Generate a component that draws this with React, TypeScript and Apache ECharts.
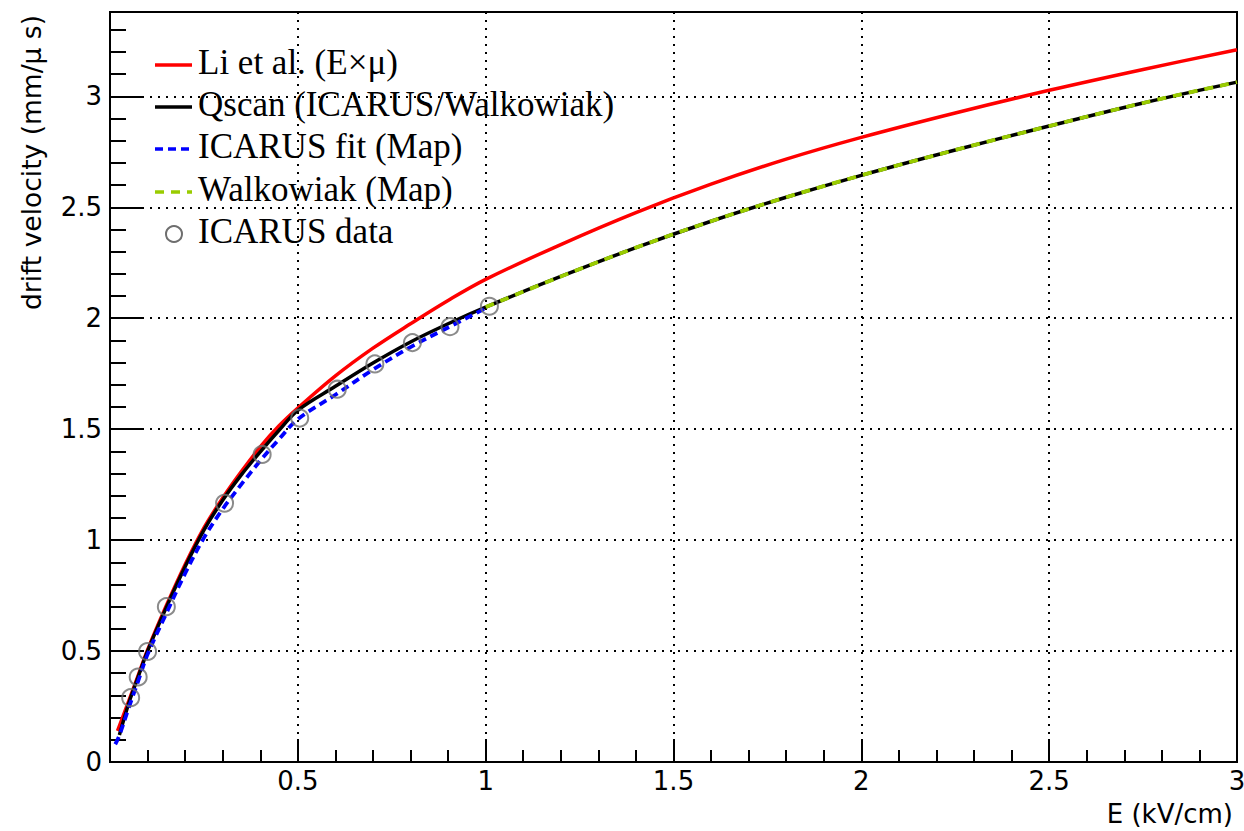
import React, { useEffect, useRef } from "react";
import * as echarts from "echarts";

// ---- data ----
const E_LI = [0.02, 0.05, 0.075, 0.1, 0.15, 0.2, 0.25, 0.3, 0.35, 0.4, 0.45, 0.5, 0.6, 0.7, 0.8, 0.9, 1.0, 1.2, 1.4, 1.6, 1.8, 2.0, 2.25, 2.5, 2.75, 3.0];
const V_LI = [0.14, 0.275, 0.39, 0.505, 0.705, 0.89, 1.055, 1.19, 1.31, 1.42, 1.515, 1.595, 1.74, 1.865, 1.975, 2.08, 2.175, 2.332, 2.476, 2.604, 2.717, 2.815, 2.925, 3.027, 3.121, 3.21];

const E_QSCAN = [0.025, 0.05, 0.075, 0.1, 0.15, 0.2, 0.25, 0.3, 0.35, 0.4, 0.45, 0.5, 0.6, 0.7, 0.8, 0.9, 1.0, 1.2, 1.4, 1.6, 1.8, 2.0, 2.25, 2.5, 2.75, 3.0];
const V_QSCAN = [0.122, 0.265, 0.384, 0.5, 0.697, 0.88, 1.045, 1.18, 1.295, 1.398, 1.495, 1.585, 1.693, 1.798, 1.893, 1.975, 2.05, 2.188, 2.318, 2.437, 2.545, 2.644, 2.758, 2.866, 2.97, 3.064];

const E_ICFIT = [0.014, 0.025, 0.05, 0.075, 0.1, 0.15, 0.2, 0.25, 0.3, 0.35, 0.4, 0.45, 0.5, 0.6, 0.7, 0.8, 0.9, 1.0];
const V_ICFIT = [0.08, 0.12, 0.245, 0.365, 0.485, 0.67, 0.85, 1.01, 1.14, 1.252, 1.358, 1.455, 1.545, 1.655, 1.768, 1.87, 1.958, 2.045];

const E_WALK = [1.0, 1.2, 1.4, 1.6, 1.8, 2.0, 2.25, 2.5, 2.75, 3.0];
const V_WALK = [2.05, 2.188, 2.318, 2.437, 2.545, 2.644, 2.758, 2.866, 2.97, 3.064];

const E_DATA = [0.055, 0.075, 0.1, 0.15, 0.305, 0.405, 0.505, 0.605, 0.705, 0.805, 0.905, 1.01];
const V_DATA = [0.29, 0.383, 0.498, 0.7, 1.166, 1.386, 1.55, 1.68, 1.794, 1.89, 1.962, 2.054];

const SERIES_NAMES = [
  "Li et al. (E×μ)",
  "Qscan (ICARUS/Walkowiak)",
  "ICARUS fit (Map)",
  "Walkowiak (Map)",
  "ICARUS data",
];

const X_TITLE = "E (kV/cm)";
const Y_TITLE = "drift velocity (mm/μ s)";

const zip = (xs: number[], ys: number[]) => xs.map((x, i) => [x, ys[i]]);

const SANS = "DejaVu Sans";
const SERIF = "Liberation Serif";

const RED = "#ff0000";
const BLACK = "#000000";
const BLUE = "#0000ff";
const GREEN = "#99cc00";
const GRAY = "#6e6e6e";
const BLUE_DASH = [8, 5];
const GREEN_DASH = [9, 7];

export default function App() {
  const ref = useRef<HTMLDivElement>(null);

  useEffect(() => {
    document.body.style.margin = "0";
    const chart = echarts.init(ref.current!, null, { renderer: "svg" });

    const isMajor = (v: number) => Math.abs(v * 2 - Math.round(v * 2)) < 1e-6;

    // legend drawn as graphic elements (ROOT TLegend style)
    const legRows = [65, 107, 149, 192, 234];
    const legStyles: any[] = [
      { stroke: RED, lineWidth: 3.5 },
      { stroke: BLACK, lineWidth: 3.5 },
      { stroke: BLUE, lineWidth: 3.5, lineDash: BLUE_DASH },
      { stroke: GREEN, lineWidth: 3.5, lineDash: GREEN_DASH },
      null,
    ];
    const legendGraphics: any[] = [];
    SERIES_NAMES.forEach((name, i) => {
      const y = legRows[i];
      const st = legStyles[i];
      if (st) {
        legendGraphics.push({
          type: "line",
          shape: { x1: 155, y1: y, x2: 192, y2: y },
          style: { ...st, fill: null },
          z: 100,
        });
      } else {
        legendGraphics.push({
          type: "circle",
          shape: { cx: 174, cy: y, r: 8 },
          style: { fill: "none", stroke: GRAY, lineWidth: 2 },
          z: 100,
        });
      }
      legendGraphics.push({
        type: "text",
        x: 198,
        y: y - 3,
        z: 100,
        style: {
          text: name,
          fontFamily: SERIF,
          fontSize: 35,
          fill: "#000",
          align: "left",
          verticalAlign: "middle",
        },
      });
    });

    const lineCommon = {
      type: "line",
      symbol: "none",
      showSymbol: false,
      smooth: 0.35,
    };

    const option: any = {
      animation: false,
      backgroundColor: "#ffffff",
      grid: {
        left: 110,
        top: 12,
        width: 1127,
        height: 750,
        show: true,
        borderColor: "#000",
        borderWidth: 2,
        backgroundColor: "transparent",
        outerBoundsMode: "none",
        containLabel: false,
      },
      xAxis: {
        type: "value",
        min: 0,
        max: 3,
        interval: 0.5,
        axisLine: { show: true, lineStyle: { color: "#000", width: 2 } },
        axisTick: { show: true, inside: true, length: 23, lineStyle: { color: "#000", width: 2 } },
        minorTick: { show: true, splitNumber: 5, length: 12, lineStyle: { color: "#000", width: 2 } },
        axisLabel: {
          margin: 6,
          fontFamily: SANS,
          fontSize: 26,
          color: "#000",
          formatter: (v: number) => (v === 0 ? "" : String(v)),
        },
        splitLine: { show: true, lineStyle: { color: "#000", width: 2, type: [2, 6] } },
      },
      yAxis: [
        {
          type: "value",
          position: "left",
          min: 0,
          max: 3.38,
          interval: 0.5,
          axisLine: { show: true, lineStyle: { color: "#000", width: 2 } },
          axisTick: { show: true, inside: true, length: 32, lineStyle: { color: "#000", width: 2 } },
          axisLabel: {
            margin: 8,
            fontFamily: SANS,
            fontSize: 26,
            color: "#000",
            formatter: (v: number) => (isMajor(v) ? String(v) : ""),
          },
          splitLine: { show: true, lineStyle: { color: "#000", width: 2, type: [2, 6] } },
        },
        {
          type: "value",
          position: "left",
          offset: 0,
          min: 0,
          max: 3.38,
          interval: 0.1,
          axisLine: { show: false },
          axisTick: { show: true, inside: true, length: 16, lineStyle: { color: "#000", width: 2 } },
          axisLabel: { show: false },
          splitLine: { show: false },
        },
      ],
      series: [
        {
          ...lineCommon,
          name: SERIES_NAMES[0],
          data: zip(E_LI, V_LI),
          lineStyle: { color: RED, width: 3.5 },
          itemStyle: { color: RED },
          z: 2,
        },
        {
          ...lineCommon,
          name: SERIES_NAMES[1],
          data: zip(E_QSCAN, V_QSCAN),
          lineStyle: { color: BLACK, width: 3.5 },
          itemStyle: { color: BLACK },
          z: 3,
        },
        {
          ...lineCommon,
          name: SERIES_NAMES[2],
          data: zip(E_ICFIT, V_ICFIT),
          lineStyle: { color: BLUE, width: 3.8, type: BLUE_DASH },
          itemStyle: { color: BLUE },
          z: 4,
        },
        {
          ...lineCommon,
          name: SERIES_NAMES[3],
          data: zip(E_WALK, V_WALK),
          lineStyle: { color: GREEN, width: 3.8, type: GREEN_DASH },
          itemStyle: { color: GREEN },
          z: 5,
        },
        {
          type: "scatter",
          name: SERIES_NAMES[4],
          data: zip(E_DATA, V_DATA),
          symbol: "circle",
          symbolSize: 17,
          itemStyle: { color: "rgba(0,0,0,0)", borderColor: GRAY, borderWidth: 2 },
          z: 6,
        },
      ],
      graphic: [
        {
          type: "text",
          x: 31,
          y: 15,
          rotation: Math.PI / 2,
          style: {
            text: Y_TITLE,
            fontFamily: SANS,
            fontSize: 26.5,
            fill: "#000",
            align: "right",
            verticalAlign: "middle",
          },
        },
        {
          type: "text",
          x: 1233,
          y: 814,
          style: {
            text: X_TITLE,
            fontFamily: SANS,
            fontSize: 26,
            fill: "#000",
            align: "right",
            verticalAlign: "middle",
          },
        },
        ...legendGraphics,
      ],
    };

    chart.setOption(option);
    return () => chart.dispose();
  }, []);

  return <div ref={ref} style={{ width: 1244, height: 831 }} />;
}
